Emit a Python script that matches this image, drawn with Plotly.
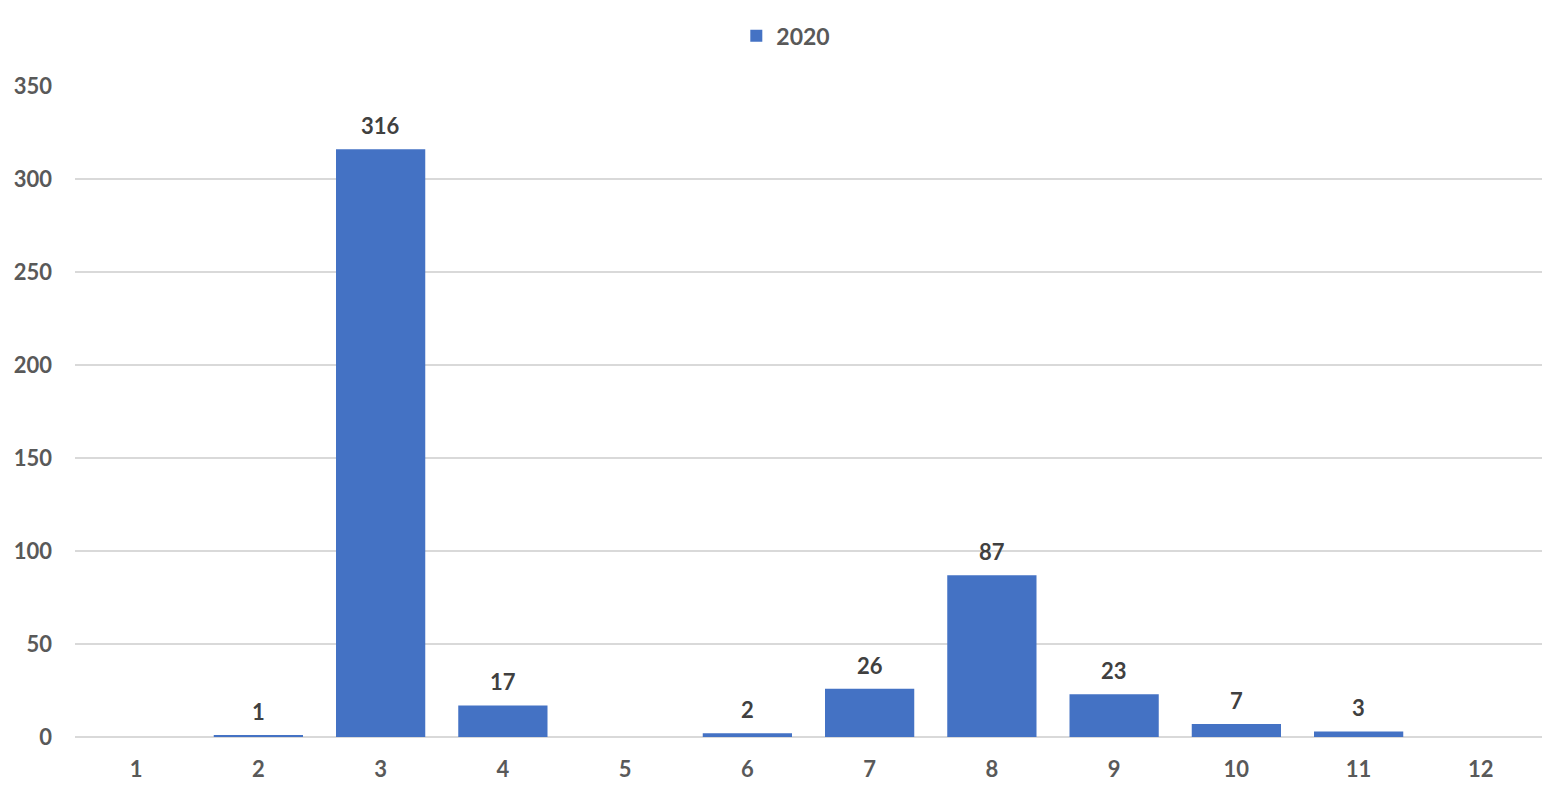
import plotly.graph_objects as go

months = ["1", "2", "3", "4", "5", "6", "7", "8", "9", "10", "11", "12"]
values_2020 = [None, 1, 316, 17, None, 2, 26, 87, 23, 7, 3, None]
y_ticks = [0, 50, 100, 150, 200, 250, 300, 350]

fig = go.Figure([go.Bar(
    name="2020", x=months, y=values_2020,
    marker=dict(color="#4472C4", line=dict(width=0)),
)])

# value labels above bars (x given as category index)
for i, v in enumerate(values_2020):
    if v is None:
        continue
    fig.add_annotation(x=i, y=v, text=str(v), showarrow=False, yanchor="bottom", yshift=8,
                       font=dict(family="Lato", size=22, color="#404040", weight="bold"))

# page has an 8px body offset, margins compensate
fig.update_layout(
    width=1565, height=797,
    margin=dict(l=67, r=31, t=78, b=68, autoexpand=False),
    plot_bgcolor="white", paper_bgcolor="white",
    bargap=0.27,
    showlegend=True,
    legend=dict(orientation="h", x=0.497, xanchor="center", xref="container",
                y=0.965, yanchor="middle", yref="container",
                font=dict(family="Lato", size=23, color="#595959", weight="bold")),
    font=dict(family="Lato", size=22, color="#595959"),
)

fig.update_xaxes(type="category", showgrid=False, showline=False, ticks="", automargin=False,
                 ticklabelstandoff=17,
                 tickfont=dict(family="Lato", size=22, color="#595959", weight="bold"))
fig.update_yaxes(range=[0, 350], tickvals=y_ticks, showgrid=True, gridcolor="#D9D9D9",
                 gridwidth=1.5, zeroline=True, zerolinecolor="#D9D9D9", zerolinewidth=1.5,
                 showline=False, ticks="", ticklabelstandoff=22, automargin=False,
                 tickfont=dict(family="Lato", size=22, color="#595959", weight="bold"))

fig.write_html("out.html")
